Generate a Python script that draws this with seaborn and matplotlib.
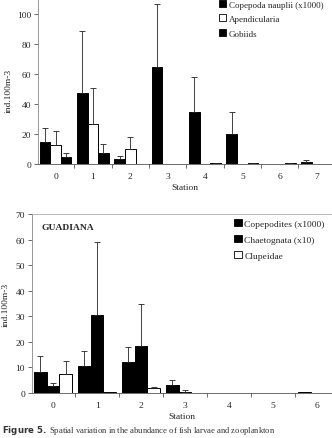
import numpy as np
import pandas as pd
import matplotlib
matplotlib.use("Agg")
import matplotlib.pyplot as plt
import seaborn as sns
from matplotlib.patches import Patch

sns.set_theme(style="white")
plt.rcParams['font.family'] = ['Liberation Serif', 'DejaVu Serif']

# ---- top panel data ----
top_stations = ["0", "1", "2", "3", "4", "5", "6", "7"]
top_series = ["Copepoda nauplii (x1000)", "Apendicularia", "Gobiids"]
top_copepoda = [14.4, 47.3, 3.6, 64.9, 34.9, 20.0, 0.2, 1.5]
top_copepoda_err = [24.0, 88.4, 5.1, 106.9, 57.8, 34.7, 0.2, 2.5]
top_apend = [12.7, 26.7, 10.0, 0.0, 0.0, 0.0, 0.0, 0.0]
top_apend_err = [21.8, 50.4, 18.0, 0.0, 0.0, 0.0, 0.0, 0.0]
top_gobiids = [4.4, 7.3, 0.0, 0.0, 0.5, 0.5, 0.4, 0.0]
top_gobiids_err = [7.1, 13.1, 0.0, 0.0, 1.0, 1.0, 0.8, 0.0]
top_colors = ["black", "white", "black"]

# ---- bottom panel data ----
bot_stations = ["0", "1", "2", "3", "4", "5", "6"]
bot_series = ["Copepodites (x1000)", "Chaetognata (x10)", "Clupeidae"]
bot_copepodites = [8.2, 10.4, 12.1, 3.2, 0.0, 0.0, 0.3]
bot_copepodites_err = [14.5, 16.6, 17.9, 5.0, 0.0, 0.0, 0.0]
bot_chaeto = [2.6, 30.4, 18.5, 0.5, 0.0, 0.0, 0.0]
bot_chaeto_err = [4.0, 59.0, 34.8, 1.1, 0.0, 0.0, 0.0]
bot_clup = [7.5, 0.3, 1.8, 0.0, 0.0, 0.0, 0.0]
bot_clup_err = [12.5, 0.3, 2.5, 0.0, 0.0, 0.0, 0.0]
bot_colors = ["black", "black", "white"]

FS = 6.8

def make_df(stations, series, values, errs):
    rows = []
    for s, v, e in zip(series, values, errs):
        for st, vv, ee in zip(stations, v, e):
            rows.append({"Station": st, "series": s, "value": vv, "err": ee})
    return pd.DataFrame(rows)

def draw(ax, df, stations, series, colors, width, ymax, yticks):
    sns.barplot(data=df, x="Station", y="value", hue="series", order=stations,
                hue_order=series, palette=colors, width=width, ax=ax,
                edgecolor="black", linewidth=0.7, errorbar=None, legend=True)
    # error bars (upper only) from bar patches
    for cont, s in zip(ax.containers, series):
        sub = df[df.series == s].set_index("Station").loc[stations]
        for patch, (_, r) in zip(cont.patches, sub.iterrows()):
            if r["err"] > r["value"]:
                xc = patch.get_x() + patch.get_width() / 2
                ax.errorbar([xc], [r["value"]], yerr=[[0], [r["err"] - r["value"]]],
                            fmt="none", ecolor="#222222", elinewidth=0.6,
                            capsize=2.2, capthick=0.6)
    ax.set_ylim(0, ymax)
    ax.set_yticks(yticks)
    ax.set_ylabel("ind.100m-3", fontsize=FS)
    ax.set_xlabel("Station", fontsize=FS, labelpad=2)
    ax.tick_params(axis="y", left=True, length=3, width=0.6, labelsize=FS, pad=2, color="#555555")
    ax.tick_params(axis="x", which="major", length=0, labelsize=FS, pad=6)
    ax.set_xticks(np.arange(len(stations)) + 0.5, minor=True)
    ax.tick_params(axis="x", which="minor", bottom=True, length=3, width=0.6, color="#555555")
    ax.spines["right"].set_visible(False)
    ax.spines["left"].set_color("#888888")
    ax.spines["left"].set_linewidth(0.6)
    ax.spines["bottom"].set_color("#555555")
    ax.spines["bottom"].set_linewidth(0.6)
    leg = ax.get_legend()
    if leg is not None:
        leg.remove()

fig = plt.figure(figsize=(3.32, 4.39), dpi=100)

W, H = 332, 439
ax1 = fig.add_axes([38 / W, 1 - 165 / H, 1 - 38 / W, 165 / H])
df1 = make_df(top_stations, top_series,
              [top_copepoda, top_apend, top_gobiids],
              [top_copepoda_err, top_apend_err, top_gobiids_err])
draw(ax1, df1, top_stations, top_series, top_colors, 0.85, 110, [0, 20, 40, 60, 80, 100])
ax1.spines["top"].set_visible(False)
ax1.set_xlim(-0.47, 7.4)
ax1.yaxis.set_label_coords(-0.085, 0.45)

ax2 = fig.add_axes([32 / W, 1 - 394 / H, 1 - 32 / W, (394 - 215) / H])
df2 = make_df(bot_stations, bot_series,
              [bot_copepodites, bot_chaeto, bot_clup],
              [bot_copepodites_err, bot_chaeto_err, bot_clup_err])
draw(ax2, df2, bot_stations, bot_series, bot_colors, 0.87, 70, [0, 10, 20, 30, 40, 50, 60, 70])
ax2.spines["top"].set_color("#aaaaaa")
ax2.spines["top"].set_linewidth(0.6)
ax2.set_xlim(-0.48, 6.34)
ax2.yaxis.set_label_coords(-0.075, 0.5)
ax2.text(0.03, 0.95, "GUADIANA", transform=ax2.transAxes, fontsize=FS,
         fontweight="bold", va="top", ha="left")

# legends
h1 = [Patch(facecolor=c, edgecolor="black", linewidth=0.6) for c in top_colors]
fig.legend(h1, top_series, loc="upper left", bbox_to_anchor=(219 / W, 1 - 1 / H),
           frameon=False, fontsize=6.5, handlelength=0.8, handleheight=0.8,
           handletextpad=0.3, labelspacing=0.65, borderaxespad=0, borderpad=0)
h2 = [Patch(facecolor=c, edgecolor="black", linewidth=0.6) for c in bot_colors]
fig.legend(h2, bot_series, loc="upper left", bbox_to_anchor=(234 / W, 1 - 220 / H),
           frameon=False, fontsize=FS, handlelength=0.8, handleheight=0.8,
           handletextpad=0.3, labelspacing=0.75, borderaxespad=0, borderpad=0)

fig.text(2 / W, 1.5 / H, r"$\bf{Figure\ 5.}$ Spatial variation in the abundance of fish larvae and zooplankton",
         fontsize=6.2, va="bottom", ha="left", color="#333333")

fig.savefig("out.png", dpi=100)
